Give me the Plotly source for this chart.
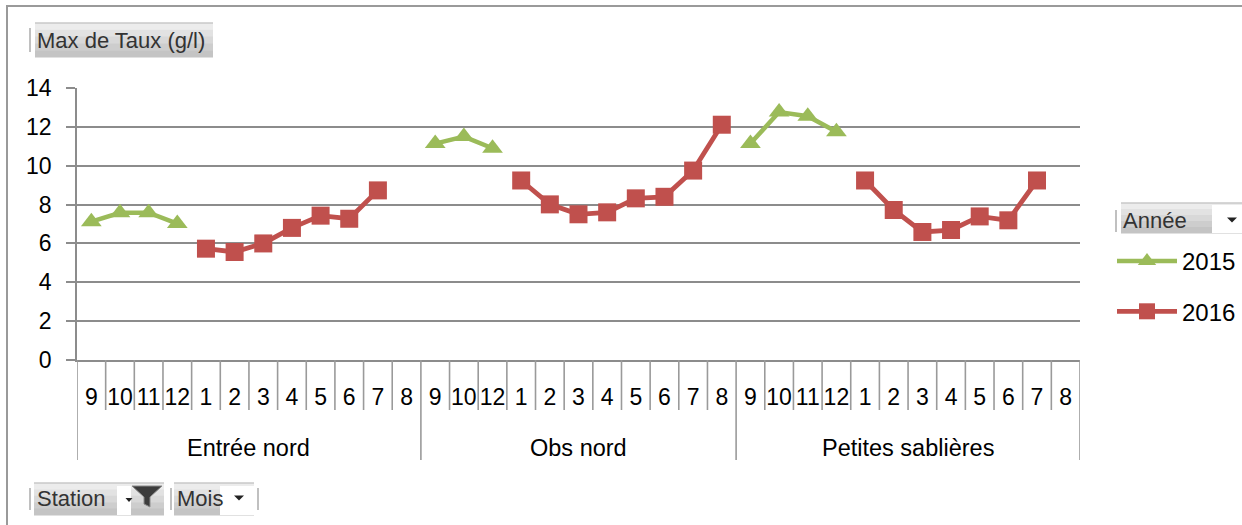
import plotly.graph_objects as go

# ---- data ---------------------------------------------------------------
stations = ["Entrée nord", "Obs nord", "Petites sablières"]
months_entree = ["9", "10", "11", "12", "1", "2", "3", "4", "5", "6", "7", "8"]
months_obs = ["9", "10", "12", "1", "2", "3", "4", "5", "6", "7", "8"]
months_petites = ["9", "10", "11", "12", "1", "2", "3", "4", "5", "6", "7", "8"]

taux_2015_entree = [7.12, 7.58, 7.58, 7.02, None, None, None, None, None, None, None, None]
taux_2016_entree = [None, None, None, None, 5.73, 5.56, 6.0, 6.8, 7.43, 7.27, 8.73, None]
taux_2015_obs = [11.14, 11.5, 10.9, None, None, None, None, None, None, None, None]
taux_2016_obs = [None, None, None, 9.24, 8.01, 7.5, 7.6, 8.32, 8.4, 9.75, 12.11]
taux_2015_petites = [11.14, 12.76, 12.55, 11.75, None, None, None, None, None, None, None, None]
taux_2016_petites = [None, None, None, None, 9.24, 7.72, 6.59, 6.69, 7.39, 7.19, 9.24, None]

y_ticks = [0, 2, 4, 6, 8, 10, 12, 14]

# ---- derived category positions -----------------------------------------
month_groups = [months_entree, months_obs, months_petites]
x_labels = [m for grp in month_groups for m in grp]
x_idx = list(range(len(x_labels)))
serie_2015 = taux_2015_entree + taux_2015_obs + taux_2015_petites
serie_2016 = taux_2016_entree + taux_2016_obs + taux_2016_petites

# ---- page geometry ------------------------------------------------------
W, H = 1242, 525
ML, MR, MT, MB = 77, 162, 88, 165
PW, PH = W - ML - MR, H - MT - MB

FONT = "Liberation Sans, Arial, sans-serif"
GREEN = "#9BBB59"
RED = "#C0504D"
GRID = "#8c8c8c"
TICKLINE = "#9a9a9a"


def px_x(px):
    return (px - ML) / PW


def px_y(py):
    return (H - MB - py) / PH


fig = go.Figure()

fig.add_trace(go.Scatter(
    x=x_idx, y=serie_2015, name="2015", mode="lines+markers",
    line=dict(color=GREEN, width=4.5),
    marker=dict(symbol="triangle-up", size=18, color=GREEN),
    connectgaps=False, legendgroup="a",
))
fig.add_trace(go.Scatter(
    x=x_idx, y=serie_2016, name="2016", mode="lines+markers",
    line=dict(color=RED, width=4.8),
    marker=dict(symbol="square", size=18, color=RED),
    connectgaps=False, legendgroup="b",
))

shapes = []
annotations = []

# category separators under the axis
n = len(x_labels)
group_edges = [-0.5]
acc = -0.5
for grp in month_groups:
    acc += len(grp)
    group_edges.append(acc)
for b in range(n + 1):
    xb = b - 0.5
    long_line = xb in group_edges
    shapes.append(dict(
        type="line", xref="x", yref="paper", x0=xb, x1=xb,
        y0=0, y1=px_y(460) if long_line else px_y(410),
        line=dict(color=TICKLINE, width=1.6), layer="above",
    ))

# station labels centred under their month groups
for name, lo, hi in zip(stations, group_edges[:-1], group_edges[1:]):
    annotations.append(dict(
        x=(lo + hi) / 2, y=px_y(448), xref="x", yref="paper",
        text=name, showarrow=False, yanchor="middle",
        font=dict(family=FONT, size=23.5, color="#000000"),
    ))


def add_button(x0, y0, x1, y1):
    steps = ["#ececec", "#e2e2e2", "#d8d8d8", "#cdcdcd", "#c4c4c4"]
    h = (y1 - y0) / len(steps)
    for i, c in enumerate(steps):
        shapes.append(dict(
            type="rect", xref="paper", yref="paper",
            x0=px_x(x0), x1=px_x(x1),
            y0=px_y(y0 + i * h), y1=px_y(y0 + (i + 1) * h + 0.5),
            fillcolor=c, line=dict(width=0), layer="below",
        ))
    shapes.append(dict(
        type="line", xref="paper", yref="paper",
        x0=px_x(x0), x1=px_x(x1), y0=px_y(y0), y1=px_y(y0),
        line=dict(color="#c8c8c8", width=1.5),
    ))


def add_sep(x, y0, y1):
    shapes.append(dict(
        type="line", xref="paper", yref="paper",
        x0=px_x(x), x1=px_x(x), y0=px_y(y0), y1=px_y(y1),
        line=dict(color="#c0c0c0", width=2),
    ))


def add_white(x0, y0, x1, y1):
    shapes.append(dict(
        type="rect", xref="paper", yref="paper",
        x0=px_x(x0), x1=px_x(x1), y0=px_y(y0), y1=px_y(y1),
        fillcolor="#ffffff", line=dict(width=0), layer="below",
    ))


def add_arrow(cx, cy, w=10, h=5):
    path = "M{:.5f},{:.5f} L{:.5f},{:.5f} L{:.5f},{:.5f} Z".format(
        px_x(cx - w / 2), px_y(cy - h / 2),
        px_x(cx + w / 2), px_y(cy - h / 2),
        px_x(cx), px_y(cy + h / 2),
    )
    shapes.append(dict(type="path", xref="paper", yref="paper", path=path,
                       fillcolor="#222222", line=dict(width=0)))


def add_label(x, y, text):
    annotations.append(dict(
        x=px_x(x), y=px_y(y), xref="paper", yref="paper", text=text,
        showarrow=False, xanchor="left", yanchor="middle",
        font=dict(family=FONT, size=22, color="#333333"),
    ))


# field buttons
add_sep(30, 28, 52)
add_button(35, 23, 213, 57)
add_label(35, 41, "Max de Taux (g/l)")

add_sep(1116, 210, 232)
add_button(1121, 203, 1242, 233)
add_white(1212, 205, 1242, 233)
add_label(1121, 220, "Année")
add_arrow(1232, 220)

add_sep(30, 488, 510)
add_button(34, 483, 164, 515)
add_white(117, 486, 131, 515)
add_label(35, 498, "Station")
add_arrow(129, 500, 7, 4)
funnel = "M{:.5f},{:.5f} L{:.5f},{:.5f} L{:.5f},{:.5f} L{:.5f},{:.5f} L{:.5f},{:.5f} L{:.5f},{:.5f} Z".format(
    px_x(132), px_y(486), px_x(162), px_y(486), px_x(150), px_y(497),
    px_x(150), px_y(507), px_x(144), px_y(504), px_x(144), px_y(497),
)
shapes.append(dict(type="path", xref="paper", yref="paper", path=funnel,
                   fillcolor="#3c3c3c", line=dict(color="#8a8a8a", width=1)))

add_sep(171, 488, 510)
add_button(174, 483, 254, 515)
add_white(220, 486, 254, 515)
add_label(175, 498, "Mois")
add_arrow(239, 498)
add_sep(258, 488, 510)

# chart frame
shapes.append(dict(
    type="rect", xref="paper", yref="paper",
    x0=px_x(7), x1=px_x(1260), y0=px_y(6), y1=px_y(540),
    line=dict(color="#9a9a9a", width=2), fillcolor="rgba(0,0,0,0)", layer="below",
))

fig.update_layout(
    width=W, height=H,
    margin=dict(l=ML, r=MR, t=MT, b=MB, autoexpand=False),
    paper_bgcolor="#ffffff", plot_bgcolor="#ffffff",
    font=dict(family=FONT, size=21, color="#000000"),
    shapes=shapes, annotations=annotations,
    showlegend=True,
    legend=dict(
        x=px_x(1112), y=px_y(239), xanchor="left", yanchor="top",
        font=dict(family=FONT, size=24, color="#000000"),
        itemwidth=60, tracegroupgap=16, bgcolor="rgba(0,0,0,0)",
        traceorder="grouped",
    ),
    xaxis=dict(
        range=[-0.5, n - 0.5], tickmode="array", tickvals=x_idx, ticktext=x_labels,
        showgrid=False, zeroline=False, showline=True, linecolor=GRID, linewidth=1.6,
        ticks="", ticklabelstandoff=16,
        tickfont=dict(family=FONT, size=23, color="#000000"),
        fixedrange=True,
    ),
    yaxis=dict(
        range=[0, 14], tickmode="array", tickvals=y_ticks,
        showgrid=True, gridcolor=GRID, gridwidth=1.6, zeroline=False,
        showline=True, linecolor=GRID, linewidth=1.6,
        ticks="outside", ticklen=9, tickcolor=GRID, tickwidth=1.6,
        ticklabelstandoff=10,
        tickfont=dict(family=FONT, size=23, color="#000000"),
        fixedrange=True,
    ),
)

fig.write_html("out.html")
